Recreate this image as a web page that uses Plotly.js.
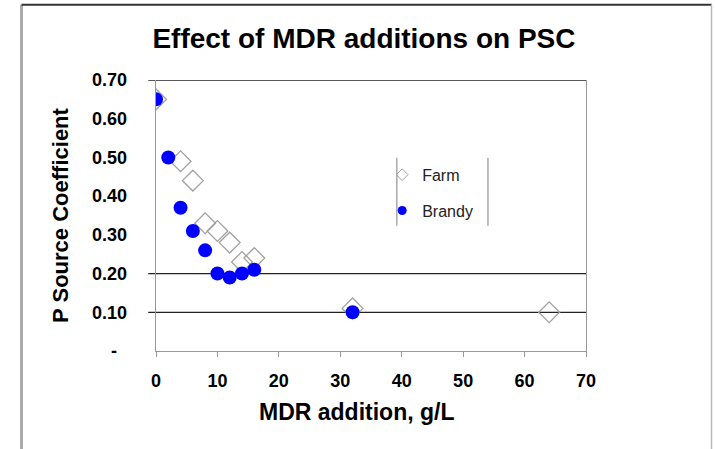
<!DOCTYPE html>
<html>
<head>
<meta charset="utf-8">
<script src="https://cdn.plot.ly/plotly-3.0.1.min.js"></script>
<style>html,body{margin:0;padding:0;background:#fff;}#chart{width:715px;height:449px;}</style>
</head>
<body>
<div id="chart"></div>
<script>
// Data
const farmX = [0, 4, 6, 8, 10, 12, 14, 16, 32, 64];
const farmY = [0.65, 0.49, 0.44, 0.33, 0.31, 0.28, 0.23, 0.24, 0.11, 0.10];
const brandyX = [0, 2, 4, 6, 8, 10, 12, 14, 16, 32];
const brandyY = [0.65, 0.50, 0.37, 0.31, 0.26, 0.20, 0.19, 0.20, 0.21, 0.10];
const yTickVals = [0, 0.1, 0.2, 0.3, 0.4, 0.5, 0.6, 0.7];
const yTickText = ['-\u00a0\u00a0', '0.10', '0.20', '0.30', '0.40', '0.50', '0.60', '0.70'];
const xTickVals = [0, 10, 20, 30, 40, 50, 60, 70];
const refLines = [0.1, 0.2, 0.7];

const FONT = 'Liberation Sans, Arial, Helvetica, sans-serif';

const traces = [
  {x: farmX, y: farmY, type: 'scatter', mode: 'markers', name: 'Farm', showlegend: false,
   marker: {symbol: 'diamond-open', size: 16, color: '#a0a0a0', line: {width: 1.3, color: '#a0a0a0'}}},
  {x: brandyX, y: brandyY, type: 'scatter', mode: 'markers', name: 'Brandy', showlegend: false,
   marker: {symbol: 'circle', size: 14, color: '#0000ff', line: {width: 0}}},
  // legend entries (smaller symbols as in the reference legend)
  {x: [null], y: [null], type: 'scatter', mode: 'markers', name: 'Farm', legendgroup: 'a',
   marker: {symbol: 'diamond-open', size: 9, color: '#a0a0a0', line: {width: 1, color: '#a0a0a0'}}},
  {x: [null], y: [null], type: 'scatter', mode: 'markers', name: 'Brandy', legendgroup: 'b',
   marker: {symbol: 'circle', size: 9, color: '#0000ff'}}
];

const shapes = refLines.map(v => ({
  type: 'line', xref: 'paper', yref: 'y', x0: -0.018, x1: 1, y0: v, y1: v,
  line: {color: '#222', width: 1.3}, layer: 'below'
}));
// legend side rules
shapes.push({type: 'line', xref: 'paper', yref: 'paper', x0: 0.560, x1: 0.560, y0: 0.462, y1: 0.713, line: {color: '#aaa', width: 1.5}});
shapes.push({type: 'line', xref: 'paper', yref: 'paper', x0: 0.772, x1: 0.772, y0: 0.462, y1: 0.713, line: {color: '#aaa', width: 1.5}});
// outer chart-area frame
shapes.push({type: 'line', xref: 'paper', yref: 'paper', x0: -0.3128, x1: -0.3128, y0: -0.4, y1: 1.2773, line: {color: '#aaaaaa', width: 3}});
shapes.push({type: 'line', xref: 'paper', yref: 'paper', x0: -0.3128, x1: 1.2919, y0: 1.2773, y1: 1.2773, line: {color: '#333333', width: 2}});
shapes.push({type: 'line', xref: 'paper', yref: 'paper', x0: 1.2919, x1: 1.2919, y0: -0.4, y1: 1.2773, line: {color: '#bbbbbb', width: 1.5}});

const layout = {
  width: 715, height: 449,
  margin: {l: 156, r: 129, t: 80, b: 98, pad: 0},
  paper_bgcolor: '#ffffff', plot_bgcolor: '#ffffff',
  font: {family: FONT, color: '#000'},
  title: {text: 'Effect of MDR additions on PSC', font: {family: FONT, size: 28, weight: 700, color: '#000'},
          x: 0.509, xanchor: 'center', y: 0.915, yanchor: 'middle'},
  xaxis: {
    range: [0, 70], tickvals: xTickVals, ticks: 'outside', ticklen: 5, tickcolor: '#999', tickwidth: 1,
    showline: true, linecolor: '#999', linewidth: 1.3, showgrid: false, zeroline: false,
    ticklabelstandoff: 8,
    tickfont: {family: FONT, size: 18, weight: 700, color: '#000'}
  },
  yaxis: {
    range: [0, 0.7], tickvals: yTickVals, ticktext: yTickText, ticks: '',
    showline: true, linecolor: '#999', linewidth: 1.3, mirror: true, showgrid: false, zeroline: false,
    ticklabelstandoff: 24,
    tickfont: {family: FONT, size: 18, weight: 700, color: '#000'},
    title: {text: 'P Source Coefficient', font: {family: FONT, size: 22, weight: 700, color: '#000'}, standoff: 17}
  },
  annotations: [
    {text: 'MDR addition, g/L', xref: 'paper', yref: 'paper', x: 0.467, y: -0.225, xanchor: 'center', yanchor: 'middle',
     showarrow: false, font: {family: FONT, size: 23, weight: 700, color: '#000'}}
  ],
  legend: {x: 0.526, xanchor: 'left', y: 0.713, yanchor: 'top', bgcolor: 'rgba(0,0,0,0)', borderwidth: 0,
           traceorder: 'grouped', tracegroupgap: 12,
           font: {family: FONT, size: 16, color: '#222'}},
  shapes: shapes,
  showlegend: true
};

Plotly.newPlot('chart', traces, layout, {displayModeBar: false, staticPlot: true});
</script>
</body>
</html>
